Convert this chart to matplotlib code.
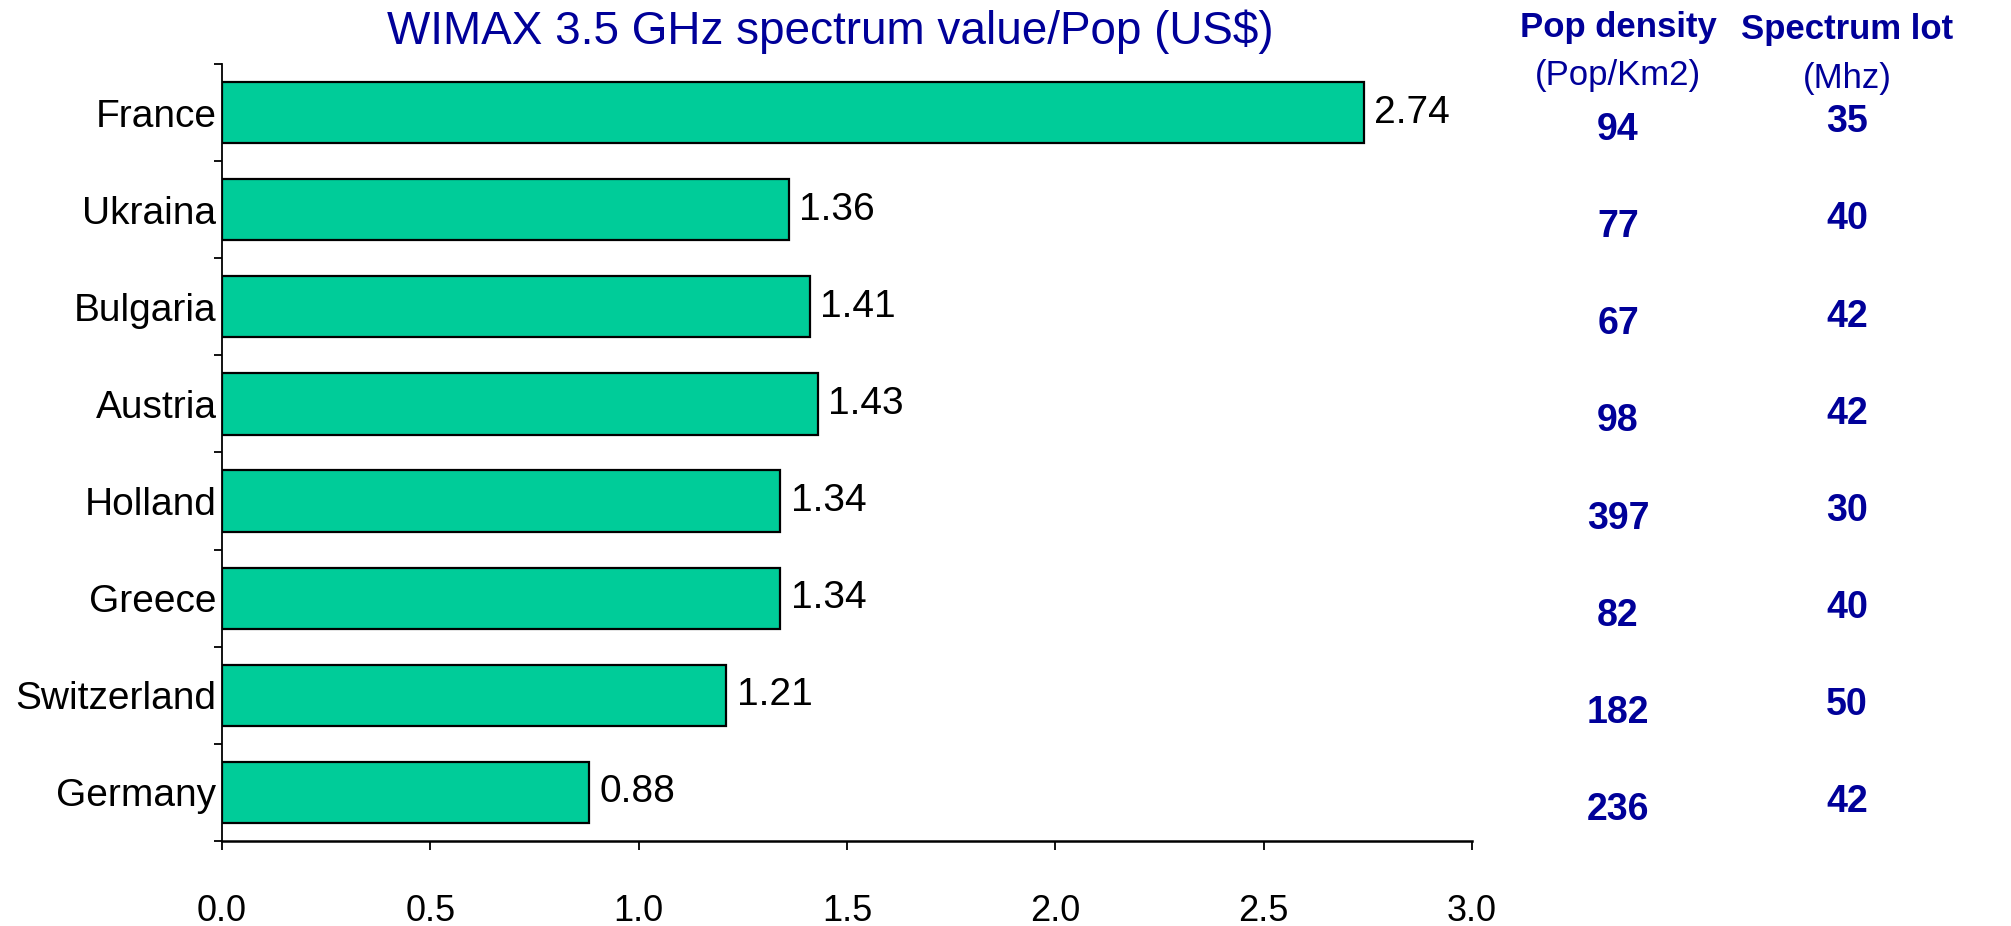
import numpy as np
import matplotlib.pyplot as plt
from matplotlib.transforms import blended_transform_factory

plt.rcParams['font.family'] = ['Liberation Sans', 'DejaVu Sans']

countries = ['France', 'Ukraina', 'Bulgaria', 'Austria', 'Holland', 'Greece', 'Switzerland', 'Germany']
value_per_pop = [2.74, 1.36, 1.41, 1.43, 1.34, 1.34, 1.21, 0.88]
pop_density = [94, 77, 67, 98, 397, 82, 182, 236]
spectrum_lot = [35, 40, 42, 42, 30, 40, 50, 42]
xticks = [0.0, 0.5, 1.0, 1.5, 2.0, 2.5, 3.0]

navy = '#000099'
green = '#00CC99'

fig = plt.figure(figsize=(20.11, 9.26), dpi=100)
ax = fig.add_axes([0.1104, 0.0918, 0.6216, 0.8391])

y = np.arange(len(countries))
ax.barh(y, value_per_pop, height=0.63, color=green, edgecolor='black', linewidth=1.6)
for yi, v in zip(y, value_per_pop):
    ax.text(v + 0.025, yi, '%.2f' % v, va='center', ha='left', fontsize=28)

ax.set_xlim(0, 3.0)
ax.set_ylim(len(countries) - 0.5, -0.5)
ax.set_xticks(xticks)
ax.set_xticklabels(['%.1f' % t for t in xticks], fontsize=26)
ax.tick_params(axis='x', direction='out', length=6.5, width=1.3, pad=32)
ax.set_yticks(np.arange(-0.5, len(countries), 1))
ax.set_yticklabels([])
ax.set_yticks(y, minor=True)
ax.set_yticklabels(countries, minor=True, fontsize=28)
ax.tick_params(axis='y', which='major', direction='out', length=6, width=1.3)
ax.tick_params(axis='y', which='minor', length=0, pad=4)
for s in ['top', 'right']:
    ax.spines[s].set_visible(False)
ax.spines['left'].set_linewidth(1.3)
ax.spines['bottom'].set_linewidth(1.8)

fig.text(0.413, 0.966, 'WIMAX 3.5 GHz spectrum value/Pop (US$)', color=navy,
         fontsize=33, ha='center', va='center')

tr = blended_transform_factory(fig.transFigure, ax.transData)
fig.text(0.8046, 0.970, 'Pop density', color=navy, fontsize=25, fontweight='bold', ha='center', va='center')
fig.text(0.8046, 0.918, '(Pop/Km2)', color=navy, fontsize=25, ha='center', va='center')
fig.text(0.9185, 0.968, 'Spectrum lot', color=navy, fontsize=25, fontweight='bold', ha='center', va='center')
fig.text(0.9185, 0.915, '(Mhz)', color=navy, fontsize=25, ha='center', va='center')
for yi, p, s in zip(y, pop_density, spectrum_lot):
    ax.text(0.8046, yi + 0.18, str(p), transform=tr, color=navy, fontsize=27,
            fontweight='bold', ha='center', va='center')
    ax.text(0.9185, yi + 0.10, str(s), transform=tr, color=navy, fontsize=27,
            fontweight='bold', ha='center', va='center')

fig.savefig('out.png', dpi=100)
plt.close(fig)
